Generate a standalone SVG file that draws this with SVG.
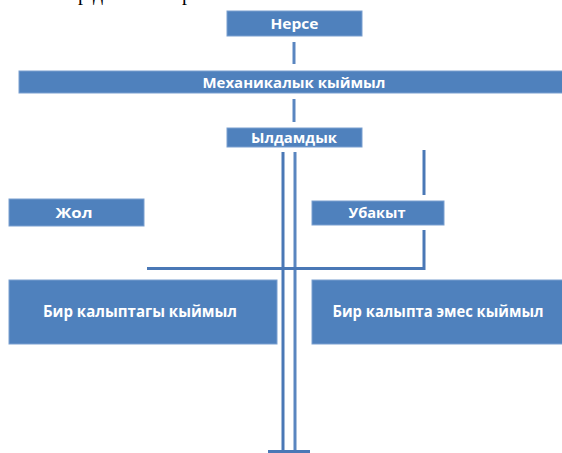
<svg xmlns="http://www.w3.org/2000/svg" width="562" height="453" viewBox="0 0 562 453">
<style>
.box{fill:#4f81bd;stroke:#7a9fd0;stroke-width:1}
.lbl{fill:#ffffff;font-family:"Open Sans","Liberation Sans",sans-serif;font-weight:bold;font-size:15px;text-anchor:middle}
.big{font-size:15.5px}
.ln{fill:none;stroke:#4a78b6;stroke-width:3}
.ld{fill:none;stroke:#5a86c0;stroke-width:3}
.frag{font-family:"Liberation Serif",serif;font-size:20px;fill:#000000}
</style>
<rect width="562" height="453" fill="#ffffff"/>
<text class="frag" y="0"><tspan x="78">р</tspan><tspan x="93">д</tspan><tspan x="182">р</tspan></text>
<g id="connectors">
<line class="ld" x1="294" y1="42" x2="294" y2="64"/>
<line class="ld" x1="294" y1="99" x2="294" y2="122"/>
<line class="ln" x1="283" y1="152" x2="283" y2="452" stroke-width="4"/>
<line class="ld" x1="295" y1="152" x2="295" y2="452"/>
<line class="ln" x1="424" y1="150" x2="424" y2="195"/>
<polyline class="ln" points="424,230 424,268.5 147,268.5"/>
<line class="ln" x1="268" y1="451.5" x2="310" y2="451.5" stroke-width="2"/>
</g>
<g id="node-nerse">
<rect class="box" x="227" y="11" width="135" height="25"/>
<text class="lbl" x="294.5" y="29" textLength="48" lengthAdjust="spacingAndGlyphs">Нерсе</text>
</g>
<g id="node-mehanikalyk">
<rect class="box" x="19" y="71" width="545" height="22"/>
<text class="lbl" x="294" y="88" textLength="183" lengthAdjust="spacingAndGlyphs">Механикалык кыймыл</text>
</g>
<g id="node-yldamdyk">
<rect class="box" x="227" y="128" width="135" height="19"/>
<text class="lbl" x="294" y="143" textLength="86" lengthAdjust="spacingAndGlyphs">Ылдамдык</text>
</g>
<g id="node-zhol">
<rect class="box" x="9" y="199" width="135" height="27"/>
<text class="lbl" x="74" y="218" textLength="37" lengthAdjust="spacingAndGlyphs">Жол</text>
</g>
<g id="node-ubakyt">
<rect class="box" x="312" y="201" width="132" height="24"/>
<text class="lbl" x="377" y="218" textLength="57" lengthAdjust="spacingAndGlyphs">Убакыт</text>
</g>
<g id="node-bir-kalyptagy">
<rect class="box" x="9" y="280" width="268" height="64"/>
<text class="lbl big" x="140" y="317" textLength="194" lengthAdjust="spacingAndGlyphs">Бир калыптагы кыймыл</text>
</g>
<g id="node-bir-kalypta-emes">
<rect class="box" x="312" y="280" width="252" height="64"/>
<text class="lbl big" x="438" y="317" textLength="211" lengthAdjust="spacingAndGlyphs">Бир калыпта эмес кыймыл</text>
</g>
</svg>
